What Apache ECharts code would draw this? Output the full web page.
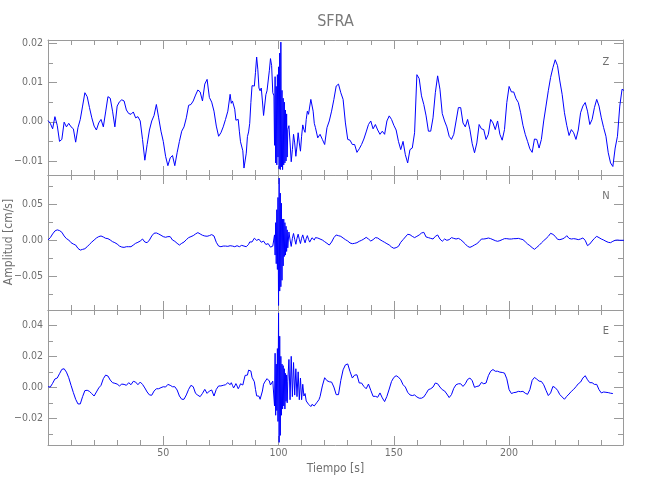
<!DOCTYPE html>
<html>
<head>
<meta charset="utf-8">
<script src="https://cdn.jsdelivr.net/npm/echarts@6/dist/echarts.min.js"></script>
<style>html,body{margin:0;padding:0;background:#fff}#c{width:650px;height:500px}</style>
</head>
<body>
<div id="c"></div>
<script>
// ---- time grid description (seconds) ----
const SEC_START = 0;        // per-second samples start
const HALF_START = 79.5;    // half-second samples (burst window) start, step 1 s
const QUARTER_START = 98.25;// quarter-second samples start, step 0.5 s

// ---- Z component (cm/s) ----
const zSec = [
0.0003,-0.0004,-0.0018,0.0013,-0.0009,-0.005,-0.0045,-0.0001,-0.0013,-0.0004,
-0.0013,-0.0018,-0.0052,-0.0015,0.0006,0.004,0.0074,0.0064,0.0036,0.001,
-0.0011,-0.0021,-0.0003,0.0006,-0.0013,0.0025,0.0064,0.006,0.0027,-0.0013,
0.004,0.0051,0.0056,0.0053,0.003,0.0021,0.0019,0.0025,0.001,0.0013,
0.0002,-0.0045,-0.0098,-0.0058,-0.0021,0.0002,0.0016,0.0044,0.001,-0.0024,
-0.005,-0.0088,-0.0112,-0.0092,-0.0086,-0.0112,-0.0079,-0.005,-0.0024,-0.0013,
0.001,0.0042,0.0044,0.0053,0.0068,0.0081,0.0076,0.0053,0.0096,0.0108,
0.0062,0.005,0.0027,-0.0011,-0.0037,-0.0028,-0.0013,0.0006,0.0027,0.007,
0.0053,0.0032,0.0006,-0.0024,-0.0054,-0.0118,-0.008,-0.0026,0.0049,0.0096,
0.0126,0.0134,0.0079,0.0053,0.0019,0.0079,0.013,0.0143,0.0066,0.009,
0.014,0.0203,0.006,0.003,-0.002,-0.0054,-0.0071,-0.0054,-0.0062,-0.0054,
-0.0037,-0.002,0.0006,0.0019,0.0057,0.0027,-0.0015,-0.0041,-0.0032,-0.0045,
-0.0058,-0.0015,0.0002,0.0027,0.0057,0.0091,0.0096,0.0074,0.0057,-0.0003,
-0.0045,-0.0047,-0.0058,-0.0058,-0.0078,-0.0069,-0.0058,-0.0044,-0.0026,-0.0007,
0.0002,-0.0018,-0.0007,-0.0021,-0.0032,-0.0024,-0.0032,0.0002,0.0015,0.0006,
-0.0009,-0.0021,-0.005,-0.0071,-0.005,-0.0084,-0.0105,-0.0071,-0.0067,-0.0028,
0.012,0.011,0.0066,0.0044,0.0015,-0.0024,-0.0024,0.001,0.0074,0.0117,
0.0083,0.0021,0.0002,-0.0013,-0.0037,-0.0045,-0.0032,0.0002,0.0036,0.0036,
-0.0003,-0.0013,0.0006,-0.002,-0.0056,-0.0079,-0.0054,-0.0007,-0.0018,-0.002,
-0.0045,-0.0032,0.0006,-0.0003,-0.002,0.0002,-0.0032,-0.0047,-0.002,0.0049,
0.009,0.0076,0.0076,0.0059,0.0049,0.0023,-0.0009,-0.0032,-0.005,-0.0069,
-0.0078,-0.0044,-0.0045,-0.0067,-0.0045,0.0002,0.004,0.0079,0.0113,0.0138,
0.0158,0.0143,0.0104,0.007,0.0023,-0.0009,-0.0035,-0.002,-0.0028,-0.0045,
-0.0021,0.0023,0.004,0.0049,0.0027,-0.0007,0.0006,0.0036,0.0057,0.004,
0.001,-0.0015,-0.0037,-0.0079,-0.0105,-0.0114,-0.0067,-0.0037,0.004,0.0083,
0.0079];
const zHalf = [
0.0047,0.0057,0.0004,0.0006,-0.0051,-0.0074,-0.0114,-0.0038,-0.0004,0.0092,
0.0091,0.0165,0.0086,0.0086,0.0016,0.0069,0.0084,0.0161,0.0074,0.0115,
0.012,0.0175,0.008,0.005,0.002,-0.001,-0.0102,-0.0032,-0.0088,-0.0028,
-0.0075,-0.0008,-0.0027,0.0027,0.0023,0.0052,-0.0004,-0.0018,-0.0046];
const zQuarter = [-0.006,-0.0105,-0.011,-0.009,-0.012,-0.0122,-0.0115,-0.0122,-0.011,-0.0105,-0.01,-0.009];

// ---- N component (cm/s) ----
const nSec = [
0.0009,0.0042,0.0093,0.0135,0.015,0.014,0.0117,0.0065,0.0028,0.0009,
-0.0028,-0.0047,-0.0061,-0.0107,-0.0131,-0.0121,-0.0112,-0.0084,-0.0051,-0.0019,
0.0009,0.0037,0.0056,0.0065,0.0051,0.0033,0.0028,0.0009,-0.0014,-0.0028,
-0.0047,-0.0075,-0.0089,-0.0093,-0.0084,-0.0084,-0.0084,-0.0061,-0.0037,-0.0023,
-0.0005,0.0023,-0.0019,-0.0028,0.0009,0.0065,0.0103,0.0107,0.0093,0.0075,
0.0056,0.0047,0.0056,0.0056,0.0009,-0.0009,-0.0037,-0.0061,-0.0037,-0.0019,
0.0014,0.0042,0.0056,0.007,0.0093,0.0112,0.0093,0.0075,0.0065,0.0061,
0.007,0.0084,0.0065,-0.0023,-0.0075,-0.0084,-0.0075,-0.0075,-0.0079,-0.007,
-0.0075,-0.0084,-0.007,-0.0084,-0.0065,-0.0075,-0.0084,-0.0051,-0.0014,0.0009,
0.0028,0.0009,0,-0.0014,-0.0028,-0.0047,-0.0065,-0.0084,-0.01,-0.032,
-0.09,-0.064,-0.035,-0.02,-0.01,0.0009,0.0033,0.0019,0.0033,0.0019,
0.0033,0.0019,0.0028,0.0019,0.0009,0.0028,0.0042,0.0037,0.0023,0.0009,
-0.0014,-0.0037,-0.0061,-0.0019,0.0042,0.0079,0.0069,0.006,0.0037,0.0014,
-0.0005,-0.0032,-0.0042,-0.0037,-0.0028,-0.0009,0.0005,0.0023,0.0046,0.0023,
-0.0005,0.0014,0.0042,0.0037,0.0014,-0.0005,-0.0023,-0.0042,-0.006,-0.0088,
-0.0106,-0.0097,-0.0079,-0.0023,0.0014,0.0051,0.0088,0.0083,0.006,0.0042,
0.006,0.0079,0.0106,0.0116,0.0051,0.0042,0.0032,0.0023,0.006,0.0079,
0.0023,-0.0009,0.0023,0.0005,0.0014,0.0042,0.0032,0.0023,0.0032,0.0014,
-0.0014,-0.0046,-0.0079,-0.0093,-0.0079,-0.006,-0.0042,-0.0014,0.0023,0.0023,
0.0028,0.0037,0.0028,0.0014,0,-0.0009,0,0.0014,0.0028,0.0028,
0.0023,0.0023,0.0028,0.0028,0.0032,0.0023,0.0014,-0.0014,-0.0046,-0.0069,
-0.0097,-0.012,-0.0093,-0.0065,-0.0032,0,0.0028,0.006,0.0102,0.0088,
0.006,0.0019,0.0014,0.0023,0.0037,0.0069,0.0032,0.0023,0.0028,0.0023,
0.0014,0.0023,0.0037,0.0005,-0.0069,-0.0046,-0.0005,0.0032,0.006,0.0042,
0.0023,0.0009,-0.0009,-0.0023,-0.0028,-0.0009,0.0005,0.0009,0.0005,0.0005,
0.0005];
const nHalf = [
-0.0057,-0.0095,-0.0062,-0.0092,-0.006,-0.0085,-0.0065,-0.0083,-0.0018,-0.0018,
0.0034,0.0004,0.002,-0.0022,-0.0006,-0.0053,-0.0041,-0.009,-0.0076,-0.02,
-0.04,-0.07,-0.055,-0.022,-0.015,0.012,-0.008,0.01,-0.005,0.009,
-0.004,0.008,-0.003,0.007,-0.002,0.004,0.001,0.006,0.001];
const nQuarter = [0.008,0.025,0.043,0.06,0.087,0.066,0.052,0.03,0.03,0.025,0.02,0.015];

// ---- E component (cm/s) ----
const eSec = [
0.0004,0.0002,0.0026,0.0054,0.006,0.0088,0.0116,0.012,0.0098,0.0062,
0.0013,-0.0034,-0.0077,-0.0107,-0.0107,-0.006,-0.0021,-0.0019,-0.0026,-0.0041,
-0.0056,-0.003,-0.0004,0.0013,0.0056,0.0079,0.0073,0.0047,0.003,0.0026,
0.0021,0.0009,0.0021,0.0019,0.0013,0.003,0.0017,0.0039,0.0034,0.0017,
0.0034,0.0019,-0.0004,-0.003,-0.0049,-0.0051,-0.0024,-0.0009,-0.0009,-0.0002,
0.0004,0.0002,0.0019,0.0013,0.0004,0.0004,-0.0017,-0.0056,-0.0077,-0.0077,
-0.0049,-0.0013,0.0013,0.0004,-0.0039,-0.0051,-0.006,-0.0039,-0.0013,-0.0039,
-0.0024,-0.0017,-0.0056,-0.0013,0.0009,0.0009,0.0013,0.0017,0.003,0.0017,
0.0013,0.0009,0.0009,0.0004,0.0013,0.0047,0.0077,0.0111,0.0105,0.0056,
-0.0013,-0.0066,-0.0077,-0.0024,0.0034,0.0056,0.0041,0.0019,0.003,0.015,
0.048,0.02,0.014,0.009,0.004,-0.008,-0.006,-0.005,-0.006,-0.008,
-0.008,-0.0056,-0.0088,-0.0109,-0.0124,-0.0116,-0.0109,-0.0094,-0.006,0.0009,
0.0062,0.0043,0.0036,0.0034,0.0002,-0.0047,-0.0047,0.0045,0.0113,0.0145,
0.0151,0.0102,0.006,0.0079,0.0081,0.0028,0.0028,0.0006,-0.0009,0.0021,
-0.0019,-0.0058,-0.0058,-0.0064,-0.0036,-0.0068,-0.0092,-0.0058,-0.0011,0.0038,
0.0064,0.0075,0.0066,0.0049,0.0017,0.0002,-0.0032,-0.0049,-0.0053,-0.0049,
-0.0062,-0.007,-0.007,-0.0062,-0.004,-0.0015,-0.0009,0.0002,0.0028,0.0023,
0.0002,-0.0015,-0.0023,-0.0043,-0.0066,-0.0047,-0.0006,0.0017,0.0023,0.0023,
0.0006,0.0023,0.0051,0.006,0.0043,0,0.0006,0.0009,0.0032,0.0023,
0.0028,0.0075,0.0104,0.0115,0.0104,0.0104,0.0098,0.0096,0.0092,0.0055,
-0.0015,-0.004,-0.0034,-0.0032,-0.0026,-0.0028,-0.0026,-0.0038,-0.0045,-0.0015,
0.0045,0.0064,0.0053,0.004,0.0038,0.0017,-0.0019,-0.0053,-0.0036,0.0006,
-0.0002,-0.0019,-0.0047,-0.0062,-0.0077,-0.0058,-0.0043,-0.0026,-0.0013,0.0004,
0.0023,0.0034,0.006,0.0075,0.0049,0.003,0.003,0.0019,0.0019,-0.0015,
-0.0036,-0.003,-0.0032,-0.0034,-0.0038,-0.004];
const eHalf = [
0.003,-0.0004,0.0024,-0.0009,0.0023,0.0015,0.0077,0.0079,0.0123,0.0065,
0.0036,-0.0055,-0.0057,-0.0065,0.002,0.003,0.0063,0.0015,0.004,0.022,
0.025,0.033,0.015,0.012,0.008,0.018,0.02,0.016,0.012,0.01,
0.006,0.002,-0.004,-0.01,-0.012,-0.011,-0.012,-0.01,-0.008];
const eQuarter = [-0.012,-0.018,-0.015,-0.022,-0.0355,-0.031,-0.018,-0.014,-0.012,-0.014,-0.009,-0.01];

// ---- axes / labels ----
const title = 'SFRA';
const xName = 'Tiempo [s]';
const yName = 'Amplitud [cm/s]';
const panelNames = ['Z', 'N', 'E'];
const xRange = [0, 249.4];
const xMajorTicks = [50, 100, 150, 200];
const xMinorTicks = [10,20,30,40,60,70,80,90,110,120,130,140,160,170,180,190,210,220,230,240];
const yRanges = [[-0.01357, 0.02084], [-0.0963, 0.0912], [-0.0372, 0.0499]];
const yMajorTicks = [[-0.01, 0, 0.01, 0.02], [-0.05, 0, 0.05], [-0.02, 0, 0.02, 0.04]];
const yMinorTicks = [[-0.005, 0.005, 0.015], [-0.075, -0.025, 0.025, 0.075], [-0.03, -0.01, 0.01, 0.03]];

function build(sec, half, quarter) {
  const pts = [];
  sec.forEach((v, i) => pts.push([SEC_START + i, v]));
  half.forEach((v, i) => pts.push([HALF_START + i, v]));
  quarter.forEach((v, i) => pts.push([QUARTER_START + 0.5 * i, v]));
  pts.sort((a, b) => a[0] - b[0]);
  return pts;
}
const traces = [build(zSec, zHalf, zQuarter), build(nSec, nHalf, nQuarter), build(eSec, eHalf, eQuarter)];

const FONT = "'Liberation Sans Narrow','DejaVu Sans Condensed','Roboto Condensed',sans-serif";
const AXIS_COLOR = '#9a9a9a';
const TEXT_COLOR = '#707070';
const tops = [40, 175, 310];

const grids = [], xAxes = [], yAxes = [], series = [];
tops.forEach((top, g) => {
  grids.push({ left: 48, top: top, width: 575, height: 135, outerBoundsMode: 'none', containLabel: false });
  const last = g === 2;
  const xBase = { gridIndex: g, type: 'value', min: xRange[0], max: xRange[1], splitLine: { show: false } };
  const lineOn = { show: true, onZero: false, lineStyle: { color: AXIS_COLOR, width: 1 } };
  const lineOff = { show: false, onZero: false };
  xAxes.push(Object.assign({}, xBase, { position: 'bottom', axisLine: lineOn,
    axisTick: { show: true, inside: true, length: 9, customValues: xMajorTicks, lineStyle: { color: AXIS_COLOR } },
    axisLabel: { show: last, customValues: xMajorTicks, margin: 3, color: TEXT_COLOR, fontSize: 10.5, fontFamily: FONT, formatter: v => String(v) } }));
  xAxes.push(Object.assign({}, xBase, { position: 'bottom', axisLine: lineOff,
    axisTick: { show: true, inside: true, length: 5, customValues: xMinorTicks, lineStyle: { color: AXIS_COLOR } },
    axisLabel: { show: false } }));
  xAxes.push(Object.assign({}, xBase, { position: 'top', axisLine: lineOn,
    axisTick: { show: true, inside: true, length: 9, customValues: xMajorTicks, lineStyle: { color: AXIS_COLOR } },
    axisLabel: { show: false } }));
  xAxes.push(Object.assign({}, xBase, { position: 'top', axisLine: lineOff,
    axisTick: { show: true, inside: true, length: 5, customValues: xMinorTicks, lineStyle: { color: AXIS_COLOR } },
    axisLabel: { show: false } }));

  const yBase = { gridIndex: g, type: 'value', min: yRanges[g][0], max: yRanges[g][1], splitLine: { show: false } };
  yAxes.push(Object.assign({}, yBase, { position: 'left', axisLine: lineOn,
    axisTick: { show: true, inside: true, length: 9, customValues: yMajorTicks[g], lineStyle: { color: AXIS_COLOR } },
    axisLabel: { show: true, customValues: yMajorTicks[g], margin: 5, color: TEXT_COLOR, fontSize: 10.5, fontFamily: FONT,
      formatter: v => Number(v).toFixed(2).replace('-', '\u2212') } }));
  yAxes.push(Object.assign({}, yBase, { position: 'left', axisLine: lineOff,
    axisTick: { show: true, inside: true, length: 5, customValues: yMinorTicks[g], lineStyle: { color: AXIS_COLOR } },
    axisLabel: { show: false } }));
  yAxes.push(Object.assign({}, yBase, { position: 'right', axisLine: lineOn,
    axisTick: { show: true, inside: true, length: 9, customValues: yMajorTicks[g], lineStyle: { color: AXIS_COLOR } },
    axisLabel: { show: false } }));
  yAxes.push(Object.assign({}, yBase, { position: 'right', axisLine: lineOff,
    axisTick: { show: true, inside: true, length: 5, customValues: yMinorTicks[g], lineStyle: { color: AXIS_COLOR } },
    axisLabel: { show: false } }));

  series.push({ type: 'line', name: panelNames[g], xAxisIndex: g * 4, yAxisIndex: g * 4, data: traces[g],
    showSymbol: false, symbol: 'none', clip: true, lineStyle: { color: '#0000ff', width: 1 }, animation: false });
});

const texts = [
  { type: 'text', x: 335.5, y: 22, style: { text: title, fill: '#7a7a7a', font: '16px ' + FONT, textAlign: 'center', textVerticalAlign: 'middle' } },
  { type: 'text', x: 335.5, y: 469, style: { text: xName, fill: TEXT_COLOR, font: '12px ' + FONT, textAlign: 'center', textVerticalAlign: 'middle' } },
  { type: 'text', x: 9, y: 242, rotation: Math.PI / 2, style: { text: yName, fill: TEXT_COLOR, font: '12px ' + FONT, textAlign: 'center', textVerticalAlign: 'middle' } }
];
const labelY = [62, 196, 331];
panelNames.forEach((n, i) => texts.push({ type: 'text', x: 606, y: labelY[i],
  style: { text: n, fill: TEXT_COLOR, font: '11px ' + FONT, textAlign: 'center', textVerticalAlign: 'middle' } }));

const chart = echarts.init(document.getElementById('c'), null, { renderer: 'canvas' });
chart.setOption({
  backgroundColor: '#ffffff',
  animation: false,
  grid: grids,
  xAxis: xAxes,
  yAxis: yAxes,
  series: series,
  graphic: texts
});
</script>
</body>
</html>
